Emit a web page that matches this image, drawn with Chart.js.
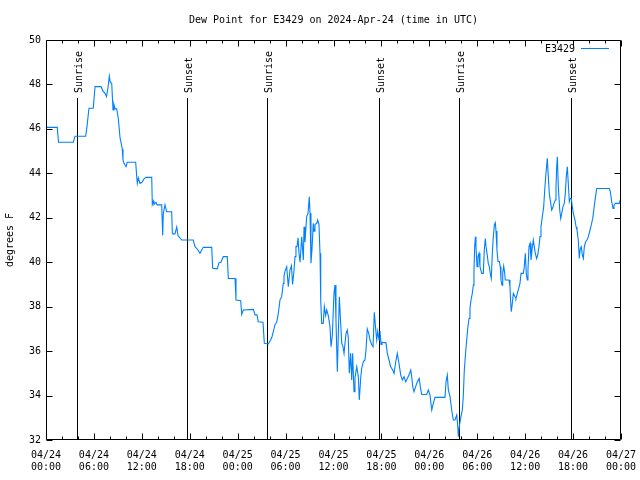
<!DOCTYPE html>
<html><head><meta charset="utf-8">
<script src="https://cdn.jsdelivr.net/npm/chart.js@4/dist/chart.umd.min.js"></script>
<style>html,body{margin:0;padding:0;background:#fff}#wrap{width:640px;height:480px}</style>
</head><body><div id="wrap"><canvas id="c" width="640" height="480"></canvas></div>
<script>
const chartTitle = 'Dew Point for E3429 on 2024-Apr-24 (time in UTC)';
const seriesLabel = 'E3429';
const yAxisLabel = 'degrees F';
const hours = [0,1.41,1.57,3.42,3.63,4.97,5.13,5.38,5.92,6.14,6.89,7.14,7.39,7.58,7.76,7.93,8.05,8.23,8.39,8.51,8.64,8.85,9.05,9.27,9.55,9.64,9.77,10.02,10.18,11.23,11.36,11.43,11.56,11.77,12.02,12.27,12.52,13.24,13.31,13.44,13.52,13.77,13.90,14.49,14.61,14.69,14.90,15.11,15.74,15.82,15.90,16.15,16.37,16.53,16.78,16.99,18.44,18.66,19.03,19.28,19.50,19.70,20.75,20.87,21.45,21.66,21.91,22.20,22.70,22.83,23.67,23.79,24.38,24.51,24.71,25.96,26.17,26.42,26.58,27.17,27.34,27.84,28.05,28.26,28.46,28.68,28.89,29.09,29.30,29.51,29.71,29.80,29.93,30.14,30.34,30.55,30.74,30.87,31.05,31.18,31.30,31.43,31.56,31.68,31.81,32.02,32.22,32.31,32.43,32.64,32.81,32.97,33.06,33.18,33.31,33.47,33.56,33.68,33.90,34.02,34.18,34.31,34.40,34.52,34.72,34.85,35.02,35.15,35.35,35.56,35.69,35.85,36.06,36.19,36.31,36.48,36.60,36.73,36.90,37.03,37.19,37.32,37.44,37.57,37.73,37.85,37.98,38.15,38.28,38.40,38.48,38.57,38.69,38.91,39.11,39.23,39.41,39.53,39.73,39.94,40.07,40.23,40.41,40.57,40.78,40.95,41.11,41.28,41.41,41.54,41.70,41.82,41.95,42.07,42.32,42.57,42.74,42.95,43.16,43.41,43.58,43.79,43.99,44.20,44.42,44.62,44.83,45.04,45.24,45.45,45.67,45.79,45.92,46.08,46.29,46.49,46.74,46.87,47.04,47.67,47.87,48.08,48.30,48.50,48.71,49.96,50.09,50.25,50.38,50.59,50.80,51.00,51.21,51.43,51.55,51.63,51.75,51.93,52.13,52.25,52.38,52.55,52.68,52.80,52.97,53.09,53.22,53.38,53.51,53.59,53.68,53.76,53.84,53.97,54.09,54.22,54.34,54.56,54.76,54.88,55.01,55.10,55.26,55.38,55.51,55.63,55.76,55.89,56.01,56.14,56.26,56.35,56.47,56.60,56.76,56.89,56.97,57.10,57.19,57.31,57.44,57.51,57.98,58.10,58.19,58.26,58.39,58.52,58.73,58.85,59.02,59.19,59.35,59.48,59.77,59.89,60.02,60.14,60.27,60.35,60.48,60.61,60.73,60.86,61.02,61.14,61.27,61.44,61.57,61.73,61.86,61.98,62.15,62.32,62.45,62.57,62.70,62.77,62.90,63.02,63.20,63.32,63.45,63.61,63.77,63.86,63.95,64.03,64.15,64.33,64.45,64.58,64.74,64.90,65.03,65.15,65.28,65.40,65.53,65.65,65.78,65.90,66.03,66.24,66.37,66.49,66.65,66.78,66.90,67.03,67.16,67.28,67.41,67.58,67.74,67.91,68.12,68.28,68.46,68.62,68.78,68.96,70.54,70.66,70.84,71.00,71.12,71.29,71.79,71.96];
const dewPoint = [46.07,46.07,45.4,45.4,45.67,45.67,46.1,46.93,46.93,47.9,47.9,47.7,47.6,47.45,47.85,48.38,48.1,48.05,46.85,47.1,46.9,46.9,46.48,45.6,45.1,44.6,44.45,44.3,44.5,44.5,43.85,43.55,43.8,43.55,43.6,43.75,43.82,43.82,42.6,42.75,42.6,42.7,42.58,42.58,41.2,42.2,42.58,42.27,42.27,41.3,41.27,41.27,41.58,41.2,41.1,41.0,41.0,40.7,40.55,40.4,40.55,40.67,40.67,39.73,39.7,39.98,40.0,40.25,40.25,39.27,39.27,38.3,38.27,37.65,37.85,37.88,37.63,37.63,37.32,37.3,36.35,36.32,36.45,36.6,36.87,37.2,37.3,37.7,38.3,38.45,39.05,39.35,39.6,39.8,38.9,39.65,39.85,39.0,39.6,40.25,40.7,40.7,41.1,40.4,40.0,41.15,40.1,41.6,40.9,42.05,42.2,42.95,42.2,39.95,40.6,41.75,41.4,41.7,41.75,41.9,41.7,40.4,38.3,37.25,37.25,38.0,37.6,37.85,37.6,37.1,36.2,36.7,38.6,38.97,37.4,35.07,36.7,38.45,37.25,36.35,36.2,35.9,36.35,36.8,36.95,36.6,35.0,35.9,34.7,35.9,35.0,34.17,34.8,35.3,34.85,33.8,34.8,35.23,35.52,35.6,36.05,37.0,36.8,36.5,36.3,36.2,37.75,37.0,36.5,36.9,36.5,36.9,36.3,36.4,36.38,36.38,35.9,35.6,35.3,35.15,35.0,35.52,35.9,35.45,34.92,34.7,34.85,34.62,34.77,34.92,35.15,34.85,34.4,34.17,34.4,34.62,34.77,34.4,34.05,34.05,34.25,34.03,33.35,33.65,33.92,33.92,34.62,34.92,34.25,33.95,33.35,32.9,32.9,33.12,32.67,32.15,32.6,33.0,33.35,33.95,35.15,35.97,36.5,37.0,37.47,37.92,38.3,38.6,38.97,39.65,40.7,41.15,40.7,39.8,40.25,40.4,39.8,39.5,39.5,40.55,41.07,40.7,40.3,39.95,39.8,39.5,39.27,40.4,41.15,41.68,41.78,41.4,40.55,40.03,40.03,39.8,39.2,38.97,39.5,39.83,39.5,39.2,39.2,38.9,38.15,37.77,38.15,38.6,38.45,38.37,38.6,38.82,39.05,39.5,39.5,39.8,40.4,39.5,39.2,39.65,40.7,40.85,40.1,40.55,41.0,40.7,40.4,40.17,40.32,40.7,41.15,41.6,42.05,42.5,43.25,43.85,44.37,44.68,43.85,43.1,42.65,42.35,42.45,42.65,42.8,43.4,44.3,44.75,43.4,42.35,41.97,42.2,42.5,42.65,43.1,43.85,44.3,43.55,42.72,42.87,42.87,42.5,42.2,41.9,41.6,41.45,41.0,40.17,40.62,40.7,40.32,40.17,40.7,40.92,41.0,41.15,41.45,41.68,41.97,42.42,42.87,43.32,43.32,43.18,42.72,42.42,42.55,42.65,42.65,42.87];
const xTickLabels = [['04/24','00:00'],['04/24','06:00'],['04/24','12:00'],['04/24','18:00'],['04/25','00:00'],['04/25','06:00'],['04/25','12:00'],['04/25','18:00'],['04/26','00:00'],['04/26','06:00'],['04/26','12:00'],['04/26','18:00'],['04/27','00:00']];
const sunHours = [3.88, 17.66, 27.67, 41.70, 51.72, 65.74];
const sunLabels = ['Sunrise','Sunset','Sunrise','Sunset','Sunrise','Sunset'];

const FONT = 'DejaVu Sans Mono';
const LINE_COLOR = 'rgb(0,128,255)';

const points = hours.map((h, i) => ({x: h, y: dewPoint[i]}));

const sunPlugin = {
  id: 'sun',
  beforeDatasetsDraw(chart) {
    const {ctx, chartArea, scales: {x}} = chart;
    ctx.save();
    ctx.strokeStyle = '#000';
    ctx.lineWidth = 1;
    ctx.fillStyle = '#000';
    ctx.font = '10px "' + FONT + '"';
    sunHours.forEach((h, i) => {
      const px = Math.round(x.getPixelForValue(h)) + 0.5;
      ctx.beginPath();
      ctx.moveTo(px, 98);
      ctx.lineTo(px, chartArea.bottom);
      ctx.stroke();
      ctx.save();
      ctx.translate(px + 4, 93);
      ctx.rotate(-Math.PI / 2);
      ctx.textAlign = 'left';
      ctx.textBaseline = 'alphabetic';
      ctx.fillText(sunLabels[i], 0, 0);
      ctx.restore();
    });
    ctx.restore();
  }
};

const framePlugin = {
  id: 'frame',
  afterDraw(chart) {
    const {ctx, chartArea: a, scales: {x, y}} = chart;
    ctx.save();
    ctx.fillStyle = '#000';
    ctx.font = '10px "' + FONT + '"';
    ctx.textAlign = 'center';
    ctx.textBaseline = 'middle';
    ctx.fillText(chartTitle, (a.left + a.right) / 2, 20);

    ctx.strokeStyle = '#000';
    ctx.lineWidth = 1;
    const L = Math.round(a.left) + 0.5, R = Math.round(a.right) - 0.5;
    const T = Math.round(a.top) + 0.5, B = Math.round(a.bottom) - 0.5;
    ctx.beginPath();
    ctx.rect(L, T, R - L, B - T);
    ctx.stroke();
    ctx.beginPath();
    for (let v = 32; v <= 50; v += 2) {
      const py = Math.round(y.getPixelForValue(v)) + 0.5;
      ctx.moveTo(L, py); ctx.lineTo(L + 6, py);
      ctx.moveTo(R, py); ctx.lineTo(R - 6, py);
    }
    for (let h = 0; h <= 72; h += 2) {
      const px = Math.round(x.getPixelForValue(h)) + 0.5;
      const len = (h % 6 === 0) ? 6 : 3;
      ctx.moveTo(px, B); ctx.lineTo(px, B - len);
      ctx.moveTo(px, T); ctx.lineTo(px, T + len);
    }
    ctx.stroke();
    ctx.textAlign = 'right';
    ctx.textBaseline = 'middle';
    ctx.fillText(chart.data.datasets[0].label, 575, 49);
    ctx.strokeStyle = chart.data.datasets[0].borderColor;
    ctx.beginPath();
    ctx.moveTo(581, 48.5); ctx.lineTo(609, 48.5);
    ctx.stroke();
    ctx.restore();
  }
};

new Chart(document.getElementById('c'), {
  type: 'line',
  data: {
    datasets: [{
      label: seriesLabel,
      data: points,
      borderColor: LINE_COLOR,
      backgroundColor: LINE_COLOR,
      borderWidth: 1.1,
      pointRadius: 0,
      tension: 0,
      fill: false
    }]
  },
  options: {
    responsive: false,
    animation: false,
    devicePixelRatio: 1,
    layout: {padding: {left: 0, right: 19, top: 40, bottom: 0}},
    plugins: {
      legend: {display: false},
      tooltip: {enabled: false},
      title: {display: false}
    },
    scales: {
      x: {
        type: 'linear',
        min: 0, max: 72,
        grid: {display: false, drawTicks: false},
        border: {display: false},
        afterFit: s => { s.height = 40; s.paddingLeft = 0; s.paddingRight = 0; },
        ticks: {
          stepSize: 6,
          autoSkip: false,
          maxRotation: 0,
          padding: 9,
          color: '#000',
          font: {family: FONT, size: 10},
          callback: (v, i) => xTickLabels[i]
        }
      },
      y: {
        min: 32, max: 50,
        grid: {display: false, drawTicks: false},
        border: {display: false},
        afterFit: s => { s.width = 46; s.paddingTop = 0; s.paddingBottom = 0; },
        title: {
          display: true,
          text: yAxisLabel,
          color: '#000',
          font: {family: FONT, size: 10}
        },
        ticks: {
          stepSize: 2,
          padding: 5,
          color: '#000',
          font: {family: FONT, size: 10}
        }
      }
    }
  },
  plugins: [sunPlugin, framePlugin]
});
</script>
</body></html>
